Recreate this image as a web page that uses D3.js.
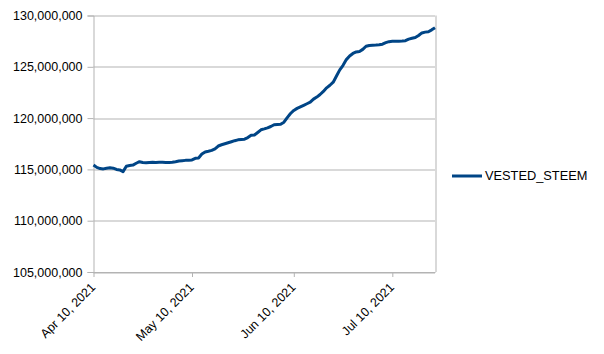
<!DOCTYPE html>
<html>
<head>
<meta charset="utf-8">
<script src="https://cdn.jsdelivr.net/npm/d3@7"></script>
<style>
  body { margin: 0; background: #fff; }
  #chart { width: 604px; height: 354px; }
  text { font-family: "Liberation Sans", Arial, sans-serif; }
</style>
</head>
<body>
<div id="chart"></div>
<script>
// Data: one value per day starting Apr 10, 2021 (millions)
const startDate = "2021-04-10";
const endDate = "2021-07-23";
const seriesName = "VESTED_STEEM";
const vestedSteem = [
  115.43, 115.2, 115.08, 115.05, 115.12, 115.15, 115.12, 115.0, 114.95, 114.78,
  115.3, 115.38, 115.42, 115.6, 115.75, 115.68, 115.65, 115.68, 115.7, 115.68,
  115.7, 115.7, 115.68, 115.68, 115.7, 115.75, 115.82, 115.85, 115.88, 115.9,
  115.92, 116.08, 116.12, 116.5, 116.7, 116.77, 116.85, 117.0, 117.28, 117.4,
  117.5, 117.6, 117.7, 117.8, 117.88, 117.92, 117.95, 118.1, 118.32, 118.35,
  118.6, 118.86, 118.95, 119.05, 119.18, 119.35, 119.38, 119.4, 119.6, 120.05,
  120.45, 120.75, 120.95, 121.1, 121.25, 121.4, 121.55, 121.85, 122.05, 122.3,
  122.6, 122.95, 123.2, 123.5, 124.1, 124.7, 125.15, 125.7, 126.05, 126.3,
  126.45, 126.5, 126.7, 127.0, 127.08, 127.1, 127.12, 127.15, 127.2, 127.35,
  127.45, 127.48, 127.5, 127.5, 127.52, 127.55, 127.7, 127.78, 127.85, 128.05,
  128.3, 128.38, 128.42, 128.6, 128.81
];
const yTicks = [105e6, 110e6, 115e6, 120e6, 125e6, 130e6];
const xTicks = ["2021-04-10", "2021-05-10", "2021-06-10", "2021-07-10"];

const width = 604, height = 354;
const margin = { top: 15.5, right: 169, bottom: 82, left: 93.5 };
const innerWidth = width - margin.left - margin.right;
const innerHeight = height - margin.top - margin.bottom;

const parse = d3.utcParse("%Y-%m-%d");
const t0 = parse(startDate);
const data = vestedSteem.map((v, i) => ({ date: d3.utcDay.offset(t0, i), value: v * 1e6 }));

const x = d3.scaleUtc()
  .domain([t0, parse(endDate)])
  .range([0, innerWidth]);

const y = d3.scaleLinear()
  .domain([105e6, 130e6])
  .range([innerHeight, 0]);

const svg = d3.select("#chart").append("svg")
  .attr("width", width)
  .attr("height", height)
  .append("g")
  .attr("transform", `translate(${margin.left},${margin.top})`);

const gridColor = "#b3b3b3";

// Horizontal gridlines
svg.append("g")
  .selectAll("line")
  .data(yTicks)
  .enter()
  .append("line")
  .attr("x1", 0)
  .attr("x2", innerWidth)
  .attr("y1", (d) => Math.round(y(d)) + 0.5)
  .attr("y2", (d) => Math.round(y(d)) + 0.5)
  .attr("stroke", gridColor);

// Right border
svg.append("line")
  .attr("x1", Math.round(innerWidth) + 0.5)
  .attr("x2", Math.round(innerWidth) + 0.5)
  .attr("y1", 0)
  .attr("y2", innerHeight)
  .attr("stroke", gridColor);

// y axis
const yAxis = d3.axisLeft(y)
  .tickValues(yTicks)
  .tickSize(6)
  .tickPadding(5)
  .tickFormat(d3.format(",.0f"));

const yg = svg.append("g").call(yAxis);
yg.select(".domain").attr("stroke", gridColor);
yg.selectAll(".tick line").attr("stroke", gridColor);
yg.selectAll("text")
  .style("font-size", "12.5px")
  .attr("fill", "#000");

// x axis
const xAxis = d3.axisBottom(x)
  .tickValues(xTicks.map(parse))
  .tickSize(5)
  .tickSizeOuter(0)
  .tickFormat(d3.utcFormat("%b %-d, %Y"));

const xg = svg.append("g")
  .attr("transform", `translate(0, ${innerHeight})`)
  .call(xAxis);
xg.select(".domain").attr("stroke", gridColor);
xg.selectAll(".tick line").attr("stroke", gridColor);
xg.selectAll("text")
  .style("font-size", "12.5px")
  .attr("fill", "#000")
  .attr("text-anchor", "end")
  .attr("dy", "0.35em")
  .attr("transform", "translate(-1, 13) rotate(-45)")
  .attr("y", 0)
  .attr("x", 0);

// Line
const line = d3.line()
  .x((d) => x(d.date))
  .y((d) => y(d.value));

svg.append("path")
  .datum(data)
  .attr("fill", "none")
  .attr("stroke", "#004586")
  .attr("stroke-width", 3)
  .attr("stroke-linejoin", "round")
  .attr("d", line);

// Legend
const legend = svg.append("g")
  .attr("transform", `translate(${452 - margin.left}, ${176 - margin.top})`);

legend.append("line")
  .attr("x1", 0)
  .attr("x2", 30)
  .attr("stroke", "#004586")
  .attr("stroke-width", 3);

legend.append("text")
  .attr("x", 33)
  .attr("y", 0)
  .attr("dy", "0.35em")
  .style("font-size", "12.8px")
  .attr("fill", "#000")
  .text(seriesName);
</script>
</body>
</html>
